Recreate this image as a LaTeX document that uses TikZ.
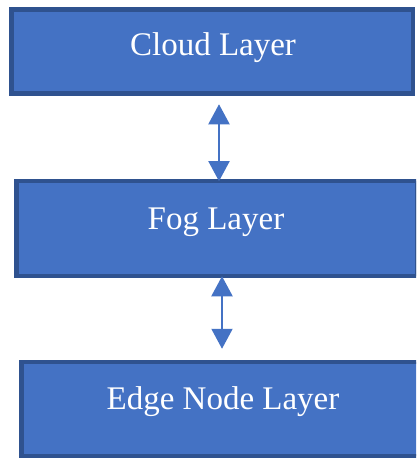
\documentclass[tikz,border=0pt]{standalone}
\usepackage{fontspec}
\setmainfont{Liberation Serif}
\usetikzlibrary{arrows.meta}
\definecolor{layerfill}{HTML}{4472C4}
\definecolor{layerline}{HTML}{2F528F}
\begin{document}
\begin{tikzpicture}[x=1pt,y=-1pt,
  layerbox/.style={rectangle, draw=layerline, fill=layerfill, line width=4.5pt, inner sep=0pt},
  layertext/.style={anchor=base, text=white, inner sep=0pt, font=\fontsize{33}{40}\selectfont},
  biarrow/.style={draw=layerfill, line width=2pt,
    {Triangle[width=21pt,length=20pt]}-{Triangle[width=21pt,length=20pt]}}]
\useasboundingbox (0,0) rectangle (416,458);
\clip (0,0) rectangle (416,458);
\fill[white] (0,0) rectangle (416,458);

% the three layers
\node[layerbox, minimum width=401.3pt, minimum height=84pt] (cloud) at (212.15,51.5) {};
\node[layerbox, minimum width=400.5pt, minimum height=94.6pt] (fog) at (216.75,228.5) {};
\node[layerbox, minimum width=404.5pt, minimum height=93.6pt] (edge) at (223.75,409) {};

\node[layertext] (cloudtxt) at (213,55) {Cloud Layer};
\node[layertext] (fogtxt) at (216,229) {Fog Layer};
\node[layertext] (edgetxt) at (223,409) {Edge Node Layer};

% two-way links between neighbouring layers
\coordinate (linkA) at (219,0);
\coordinate (linkB) at (222,0);
\draw[biarrow, shorten <=8.5pt, shorten >=-2.2pt] (cloud.south -| linkA) -- (fog.north -| linkA);
\draw[biarrow, shorten <=-1.8pt, shorten >=11.2pt] (fog.south -| linkB) -- (edge.north -| linkB);
\end{tikzpicture}
\end{document}
